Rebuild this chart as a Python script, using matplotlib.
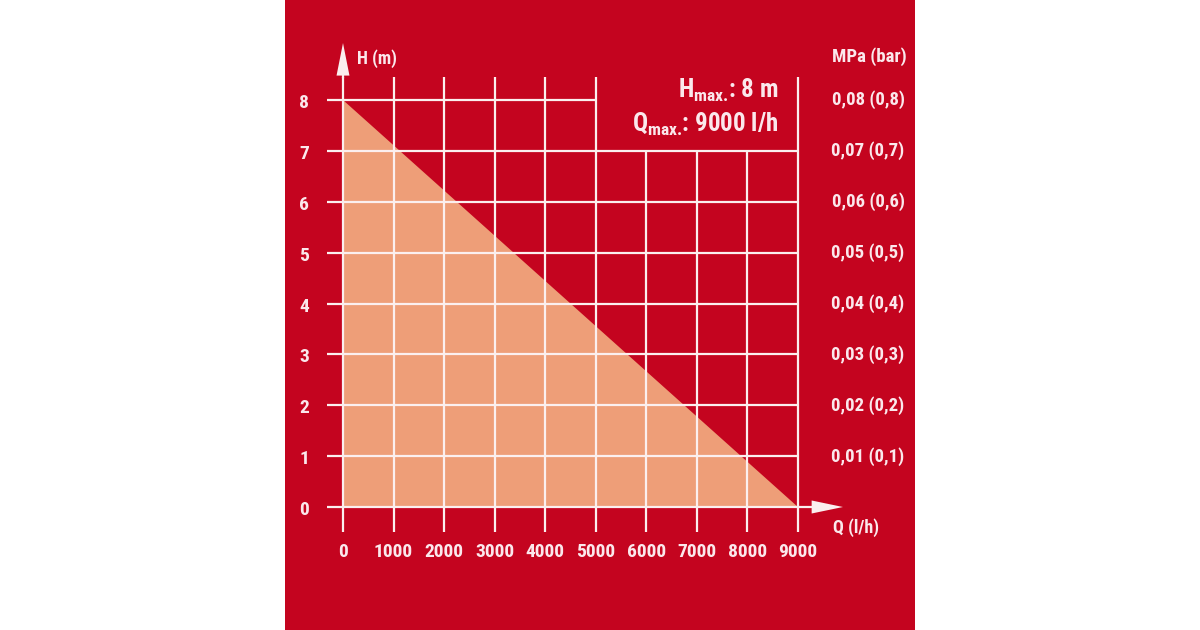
import matplotlib
matplotlib.use("Agg")
import matplotlib.pyplot as plt
from matplotlib.patches import Rectangle, Polygon
from matplotlib import font_manager as fm

# ---- data ----
flow = [0, 9000]          # Q (l/h)
head = [8, 0]             # H (m)
q_ticks = [0, 1000, 2000, 3000, 4000, 5000, 6000, 7000, 8000, 9000]
h_ticks = [0, 1, 2, 3, 4, 5, 6, 7, 8]
pressure_levels = [1, 2, 3, 4, 5, 6, 7, 8]
pressure_labels = ['0,01 (0,1)', '0,02 (0,2)', '0,03 (0,3)', '0,04 (0,4)',
                   '0,05 (0,5)', '0,06 (0,6)', '0,07 (0,7)', '0,08 (0,8)']
h_max_text = r'H$_{\rm max.}\!$: 8 m'
q_max_text = r'Q$_{\rm max.}\!$: 9000 l/h'

RED = '#C4041F'
SALMON = '#EE9E78'
LINE = '#FBEFEF'
TXT = '#FBE8EC'

installed = {f.name for f in fm.fontManager.ttflist}
cands = ['Roboto Condensed', 'Liberation Sans Narrow', 'Open Sans Condensed',
         'Noto Sans Condensed', 'DejaVu Sans Condensed']
FONT = [c for c in cands if c in installed] + ['DejaVu Sans']
MAIN = FONT[0]

plt.rcParams['font.family'] = FONT
plt.rcParams['font.weight'] = 'bold'
plt.rcParams['font.stretch'] = 'condensed'
plt.rcParams['mathtext.fontset'] = 'custom'
plt.rcParams['mathtext.rm'] = MAIN + ':bold'
plt.rcParams['mathtext.it'] = MAIN + ':bold'
plt.rcParams['mathtext.bf'] = MAIN + ':bold'

W, H = 1200, 630
fig = plt.figure(figsize=(12, 6.3), dpi=100, facecolor='white')
fig.patches.append(Rectangle((285 / W, 0), 630 / W, 1, transform=fig.transFigure,
                             facecolor=RED, edgecolor='none', zorder=-10))

ax = fig.add_axes([343 / W, (630 - 507) / H, 455 / W, 407 / H])
ax.set_zorder(5)
ax.set_xlim(0, 9000)
ax.set_ylim(0, 8)
ax.axis('off')
ax.patch.set_visible(False)

# filled performance area
ax.fill_between(flow, head, 0, color=SALMON, linewidth=0, zorder=1)

lw = 1.6
x_left = -310
y_bottom = -0.49
y_top = 8.45
# vertical grid lines
for q in q_ticks:
    top = y_top
    if 5000 < q < 9000:
        top = 7
    ax.plot([q, q], [y_bottom, top], color=LINE, lw=lw, clip_on=False, zorder=2,
            solid_capstyle='butt')
# horizontal grid lines
for h in h_ticks:
    if h == 8:
        right = 5000
    elif h == 0:
        right = 9600
    else:
        right = 9000
    ax.plot([x_left, right], [h, h], color=LINE, lw=lw, clip_on=False, zorder=2,
            solid_capstyle='butt')
# y axis extension and arrows
ax.plot([0, 0], [y_top, 8.6], color=LINE, lw=lw, clip_on=False, zorder=2)
ax.add_patch(Polygon([[-128, 8.48], [128, 8.48], [0, 9.12]], closed=True,
                     facecolor=LINE, edgecolor='none', clip_on=False, zorder=3))
ax.add_patch(Polygon([[9270, 0.128], [9270, -0.128], [9890, 0]], closed=True,
                     facecolor=LINE, edgecolor='none', clip_on=False, zorder=3))

px = 0.72  # points per pixel
tk = dict(color=TXT, fontweight='bold', fontstretch='condensed', textcoords='offset points',
          va='center')
# left tick labels
for h in h_ticks:
    ax.annotate(str(h), xy=(0, h), xytext=(-39 * px, -3 * px), ha='center', fontsize=14, **tk)
# bottom tick labels
for q in q_ticks:
    ax.annotate(str(q), xy=(q, 0), xytext=(0, -45 * px), ha='center', fontsize=14, **tk)
# right pressure labels
for lvl, lab in zip(pressure_levels, pressure_labels):
    ax.annotate(lab, xy=(9000, lvl), xytext=(70 * px, 0), ha='center', fontsize=13.5, **tk)

# axis titles
ax.annotate('H (m)', xy=(0, 8), xytext=(14 * px, 41 * px), ha='left', fontsize=13, **tk)
ax.annotate('MPa (bar)', xy=(9000, 8), xytext=(71 * px, 43 * px), ha='center', fontsize=13.5, **tk)
ax.annotate('Q (l/h)', xy=(9000, 0), xytext=(35 * px, -21 * px), ha='left', fontsize=13, **tk)

# max values box
ax.annotate(h_max_text, xy=(9000, 8), xytext=(-20 * px, 10 * px), ha='right', fontsize=18, **tk)
ax.annotate(q_max_text, xy=(9000, 8), xytext=(-20 * px, -24 * px), ha='right', fontsize=18, **tk)

fig.savefig('out.png', dpi=100, facecolor='white')
